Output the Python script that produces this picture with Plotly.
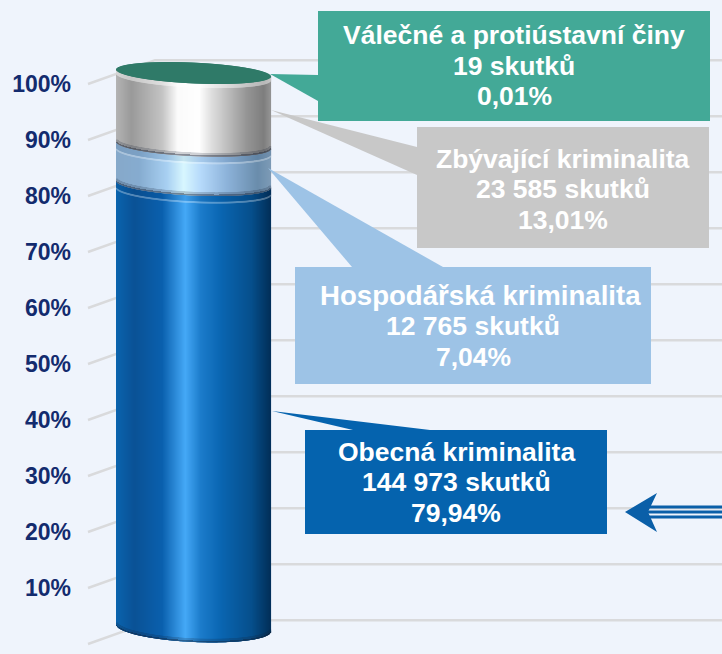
import numpy as np
import plotly.graph_objects as go

# ---------- data ----------
names = ["Obecná kriminalita", "Hospodářská kriminalita", "Zbývající kriminalita", "Válečné a protiústavní činy"]
counts = ["144 973", "12 765", "23 585", "19"]
shares = [79.94, 7.04, 13.01, 0.01]
share_labels = ["79,94%", "7,04%", "13,01%", "0,01%"]
ticks = list(range(0, 101, 10))
tick_labels = [f"{t}%" for t in ticks]

# ---------- style ----------
BG = "#EFF4FC"
GRID = "#D9DADC"
NAVY = "#132B6E"
BOX = ["#0563AE", "#9DC3E6", "#C8C8C8", "#43A997"]
TOPCAP = "#2F7A68"
STOPS = [
    [(0, "#0B64AE"), (.12, "#0A5296"), (.3, "#0A60AE"), (.45, "#45A9F7"), (.55, "#1C7CCB"),
     (.68, "#0A66B2"), (.88, "#064F8C"), (1, "#02305A")],
    [(0, "#86A9CA"), (.15, "#86ACD0"), (.33, "#A8D0F2"), (.44, "#D8F7FF"), (.55, "#B6DAFB"),
     (.72, "#8DB3DA"), (.92, "#6A8DAC"), (1, "#7C9AB6")],
    [(0, "#B4B4B4"), (.1, "#9A9A9A"), (.3, "#C4C4C4"), (.4, "#FBFBFB"), (.54, "#FFFFFF"),
     (.62, "#DFDFDF"), (.85, "#959595"), (.96, "#7E7E7E"), (1, "#939393")],
]

X0, X1 = 117, 271      # cylinder horizontal extent on the canvas
PX_PER_UNIT = 5.6
Y_ZERO_PX = 644


def val(p):
    """canvas row -> axis value"""
    return (Y_ZERO_PX - p) / PX_PER_UNIT


def hex2rgb(h):
    return np.array([int(h[i:i + 2], 16) for i in (1, 3, 5)], float)


def ramp(stops, t, mix=None, amount=0.0):
    pos = [s[0] for s in stops]
    rgb = np.array([hex2rgb(s[1]) for s in stops])
    out = np.stack([np.interp(t, pos, rgb[:, k]) for k in range(3)], 1)
    if mix is not None:
        out = out * (1 - amount) + np.array(mix, float) * amount
    return [f"rgb({int(r)},{int(g)},{int(b)})" for r, g, b in out]


xs = np.arange(X0, X1) + 0.5
tt = (xs - X0) / (X1 - X0)
arc = np.sqrt(np.clip(1 - (2 * tt - 1) ** 2, 0, 1))
cum = np.concatenate([[0], np.cumsum(shares)])


def centre(c):
    # perspective: the cylinder sits slightly behind the front plane and is tilted
    return 2.86 + 0.991 * c - (xs - (X0 + X1) / 2) * 7 / 154 / PX_PER_UNIT


def semi(c):
    return (14 - 3.6 * c / 100) / PX_PER_UNIT


def lower(c):
    return centre(c) - semi(c) * arc


def upper(c):
    return centre(c) + semi(c) * arc


fig = go.Figure()
shapes, annos = [], []

# wall grid lines in perspective, behind everything
for t in ticks:
    path = f"M 88,{t} L 155,{t + 4.25} L 722,{t + 4.25}"
    shapes.append(dict(type="path", path=path, xref="x", yref="y", line=dict(color=GRID, width=2.4),
                       layer="below"))


def layer(base, height, colors):
    fig.add_trace(go.Bar(x=xs, y=height, base=base, width=1.15, opacity=1,
                         marker=dict(color=colors, opacity=1, line=dict(width=0)),
                         hoverinfo="skip", showlegend=False))


for i in range(3):
    lo = lower(cum[i])
    hi = centre(cum[i + 1])
    layer(lo, hi - lo, ramp(STOPS[i], tt))
    # dark rim along the lower edge
    layer(lo, np.full_like(xs, 2.0 / PX_PER_UNIT), ramp(STOPS[i], tt, (20, 30, 50), 0.5))
    layer(lo + 2.0 / PX_PER_UNIT, np.full_like(xs, 1.5 / PX_PER_UNIT), ramp(STOPS[i], tt, (20, 30, 50), 0.2))
    # light bevel under the segment above
    top_lo = lower(cum[i + 1])
    if i < 2:
        layer(top_lo - 7.5 / PX_PER_UNIT, np.full_like(xs, 2.0 / PX_PER_UNIT), ramp(STOPS[i], tt, (255, 255, 255), 0.3))
        layer(top_lo - 5.5 / PX_PER_UNIT, np.full_like(xs, 6.0 / PX_PER_UNIT), ramp(STOPS[i], tt, (0, 30, 70), 0.08))
    else:
        layer(top_lo - 4.0 / PX_PER_UNIT, np.full_like(xs, 4.0 / PX_PER_UNIT), ramp(STOPS[i], tt, (255, 255, 255), 0.45))

# top cap (fourth series, 0,01 %)
layer(lower(cum[4]), upper(cum[4]) - lower(cum[4]), [TOPCAP] * len(xs))

# call-out boxes: (x0, top, x1, bottom) and wedge (tip, root a, root b), all on the canvas
geom = [
    dict(box=(305, 430, 607, 534), wedge=((272, 411), (353, 430), (430, 430)), head=(456, 26.5), mid=482),
    dict(box=(295, 267, 651, 384), wedge=((268, 168), (352, 267), (443, 267)), head=(480, 27.6), mid=326),
    dict(box=(417, 127, 709, 248), wedge=((271, 110), (417, 147), (417, 175)), head=(563, 26.5), mid=189),
    dict(box=(318, 11, 710, 121), wedge=((270, 74), (318, 75), (318, 101)), head=(514, 26.5), mid=65.5),
]
SPACING = 30.5
for i, g in enumerate(geom):
    x0, t, x1, b = g["box"]
    shapes.append(dict(type="rect", x0=x0, x1=x1, y0=val(b), y1=val(t), xref="x", yref="y",
                       fillcolor=BOX[i], line=dict(width=0), layer="above"))
    pts = g["wedge"]
    path = "M " + " L ".join(f"{px},{val(py)}" for px, py in pts) + " Z"
    shapes.append(dict(type="path", path=path, xref="x", yref="y", fillcolor=BOX[i],
                       line=dict(width=0), layer="above"))
    lines = [(names[i], g["head"][0], g["head"][1], -SPACING),
             (f"{counts[i]} skutků", (x0 + x1) / 2, 26.5, 0),
             (share_labels[i], (x0 + x1) / 2, 26.5, SPACING)]
    for txt, cx, fs, dy in lines:
        annos.append(dict(x=cx, y=val(g["mid"] + dy), xref="x", yref="y", showarrow=False,
                          align="center", xanchor="center", yanchor="middle", text=txt,
                          font=dict(family="Liberation Sans", size=fs, color="#FFFFFF", weight="bold")))

# striped arrow at the right edge
ARROW = "#0A5FA8"
head = [(625, 512), (657, 493), (648, 512), (657, 532)]
shapes.append(dict(type="path", path="M " + " L ".join(f"{px},{val(py)}" for px, py in head) + " Z",
                   xref="x", yref="y", fillcolor=ARROW, line=dict(width=0), layer="above"))
for yy, w in [(507, 3), (512, 3), (517, 3)]:
    shapes.append(dict(type="line", x0=645, x1=722, y0=val(yy), y1=val(yy), xref="x", yref="y",
                       line=dict(color=ARROW, width=w), layer="above"))

fig.update_layout(
    width=722, height=654, autosize=False,
    margin=dict(l=72, r=0, t=0, b=0),
    paper_bgcolor=BG, plot_bgcolor=BG,
    barmode="overlay", showlegend=False,
    shapes=shapes, annotations=annos,
    xaxis=dict(range=[72, 722], visible=False, fixedrange=True),
    yaxis=dict(range=[val(654), val(0)], tickvals=ticks, ticktext=tick_labels, showgrid=False,
               zeroline=False, showline=False, ticks="",
               tickfont=dict(family="Liberation Sans", size=23, color=NAVY, weight="bold"), fixedrange=True),
)
fig.write_html("out.html", config=dict(displayModeBar=False),
               post_script=f"document.body.style.margin='0';document.body.style.background='{BG}';")
